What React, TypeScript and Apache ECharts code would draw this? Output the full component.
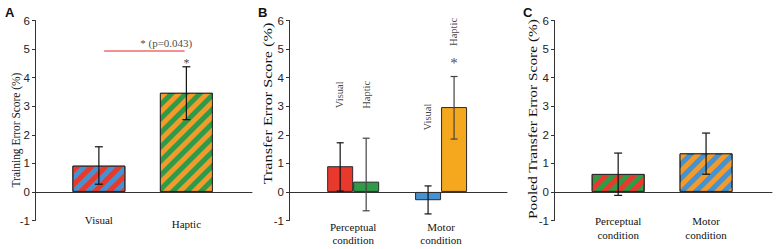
import React, { useEffect, useRef } from 'react';
import * as echarts from 'echarts';

// ---------- data ----------
const yTickValues = [-1, 0, 1, 2, 3, 4, 5, 6];

const panelACategories = ['Visual', 'Haptic'];
const panelAValues = [0.92, 3.47];
const panelALow = [0.27, 2.53];
const panelAHigh = [1.58, 4.38];

const panelBCategories = ['Perceptual\ncondition', 'Motor\ncondition'];
const panelBVisual = [0.9, -0.29];
const panelBVisualLow = [0.03, -0.77];
const panelBVisualHigh = [1.72, 0.21];
const panelBHaptic = [0.36, 2.97];
const panelBHapticLow = [-0.66, 1.85];
const panelBHapticHigh = [1.88, 4.04];

const panelCCategories = ['Perceptual\ncondition', 'Motor\ncondition'];
const panelCValues = [0.63, 1.35];
const panelCLow = [-0.12, 0.62];
const panelCHigh = [1.36, 2.06];

const sigText = '* (p=0.043)';
const sigLevel = 4.93;
const sigSpan = [0.06, 0.98];

const yAxisTitles = ['Training Error Score (%)', 'Transfer Error Score (%)', 'Pooled Transfer Error Score (%)'];
const panelLetters = ['A', 'B', 'C'];

// annotation anchors (data units)
const annA = [
  { text: sigText, x: 0.77, y: 5.2, rotate: 0, size: 11 },
  { text: '*', x: 1, y: 4.5, rotate: 0, size: 12 },
];
const annB = [
  { text: 'Visual', x: -0.15, y: 3.4, rotate: 90, size: 10.5 },
  { text: 'Haptic', x: 0.146, y: 3.4, rotate: 90, size: 10.5 },
  { text: 'Visual', x: 0.85, y: 2.62, rotate: 90, size: 10.5 },
  { text: 'Haptic', x: 1.146, y: 5.6, rotate: 90, size: 10.5 },
  { text: '*', x: 1.146, y: 4.5, rotate: 0, size: 15 },
];

// ---------- styles ----------
const RED = '#e8392c';
const BLUE = '#4592d2';
const GREEN = '#2f9a48';
const ORANGE = '#f39a2b';
const ORANGE_B = '#f5a81e';
const SERIF = '"Liberation Serif", "Times New Roman", serif';
const SANS = '"Liberation Sans", Arial, sans-serif';
const AXIS = '#333';

const stripe = (base: string, s: string) => ({
  color: base,
  borderColor: '#2a2a2a',
  borderWidth: 1,
  decal: {
    symbol: 'rect',
    symbolSize: 1,
    color: s,
    dashArrayX: [1, 0],
    dashArrayY: [4.2, 4.2],
    rotation: -Math.PI / 4,
  },
});
const solid = (c: string) => ({ color: c, borderColor: '#2a2a2a', borderWidth: 1 });

function errorSeries(ax: number, low: number[], high: number[], offsetPx: number, capHalf: number, color = '#111') {
  return {
    type: 'custom',
    xAxisIndex: ax,
    yAxisIndex: ax,
    z: 10,
    silent: true,
    data: low.map((l, i) => [i, l, high[i]]),
    encode: { x: 0, y: [1, 2] },
    renderItem: (_p: any, api: any) => {
      const x = api.value(0);
      const pLo = api.coord([x, api.value(1)]);
      const pHi = api.coord([x, api.value(2)]);
      const cx = pLo[0] + offsetPx;
      const style = { stroke: color, lineWidth: 1.2 };
      return {
        type: 'group',
        children: [
          { type: 'line', shape: { x1: cx, y1: pLo[1], x2: cx, y2: pHi[1] }, style },
          { type: 'line', shape: { x1: cx - capHalf, y1: pHi[1], x2: cx + capHalf, y2: pHi[1] }, style },
          { type: 'line', shape: { x1: cx - capHalf, y1: pLo[1], x2: cx + capHalf, y2: pLo[1] }, style },
        ],
      };
    },
  };
}

function annSeries(ax: number, list: any[]) {
  return {
    type: 'scatter',
    xAxisIndex: ax,
    yAxisIndex: ax,
    symbolSize: 1,
    silent: true,
    itemStyle: { color: 'rgba(0,0,0,0)' },
    z: 12,
    data: list.map((a) => ({
      value: [a.x, a.y],
      label: { formatter: a.text, rotate: a.rotate, fontSize: a.size },
    })),
    label: { show: true, position: 'inside', fontFamily: SERIF, color: '#111' },
  };
}

const grids = [
  { left: 35, top: 20.5, width: 217, height: 200 },
  { left: 289, top: 20.5, width: 218, height: 200 },
  { left: 554, top: 20.5, width: 218, height: 200 },
];

// y-axis title placement (pixel centres) and fit
const yTitleLayout = [
  { x: 15.3, y: 130, size: 13, scaleX: 0.88 },
  { x: 267.5, y: 103.5, size: 13.5, scaleX: 1.2 },
  { x: 532.5, y: 119, size: 13.5, scaleX: 1.14 },
];

const catSets = [panelACategories, panelBCategories, panelCCategories];

export default function App() {
  const ref = useRef<HTMLDivElement>(null);
  useEffect(() => {
    if (!ref.current) return;
    const chart = echarts.init(ref.current, undefined, { renderer: 'svg' });
    const xAxis = catSets.map((cats, i) => ({
      type: 'value',
      gridIndex: i,
      min: -0.73,
      max: 1.75,
      axisLine: { show: true, onZero: true, lineStyle: { color: AXIS, width: 1 } },
      axisTick: { show: false },
      splitLine: { show: false },
      axisLabel:
        i === 0
          ? {
              customValues: [0, 1],
              margin: -6,
              formatter: (v: number) => `{c${Math.round(v)}|${cats[Math.round(v)]}}`,
              rich: {
                c0: { fontFamily: SERIF, fontSize: 11, color: '#111' },
                c1: { fontFamily: SERIF, fontSize: 11, color: '#111', padding: [3.5, 0, 0, 0] },
              },
            }
          : {
              customValues: [0, 1],
              margin: i === 1 ? 0 : -6.5,
              formatter: (v: number) => cats[Math.round(v)],
              fontFamily: SERIF,
              fontSize: 11,
              lineHeight: i === 1 ? 13 : 14,
              color: '#111',
            },
    }));
    const yAxis = grids.map((_g, i) => ({
      type: 'value',
      gridIndex: i,
      min: yTickValues[0],
      max: yTickValues[yTickValues.length - 1],
      interval: 1,
      axisLine: { show: true, onZero: false, lineStyle: { color: AXIS, width: 1 } },
      axisTick: { show: true, length: 3, lineStyle: { color: AXIS } },
      splitLine: { show: false },
      axisLabel: { margin: 5, fontFamily: SANS, fontSize: 11.5, color: '#222' },
    }));

    chart.setOption({
      animation: false,
      backgroundColor: '#fff',
      title: panelLetters.map((t, i) => ({
        text: t,
        left: [5, 258, 523][i],
        top: 6,
        padding: 0,
        textStyle: { fontFamily: SANS, fontSize: 13, fontWeight: 'bold', color: '#111' },
      })),
      graphic: yAxisTitles.map((t, i) => ({
        type: 'text',
        x: yTitleLayout[i].x,
        y: yTitleLayout[i].y,
        rotation: Math.PI / 2,
        scaleX: yTitleLayout[i].scaleX,
        silent: true,
        style: {
          text: t,
          fontFamily: SERIF,
          fontSize: yTitleLayout[i].size,
          fill: '#111',
          align: 'center',
          verticalAlign: 'middle',
        },
      })),
      grid: grids.map((g) => ({ ...g, outerBoundsMode: 'none' })),
      xAxis,
      yAxis,
      series: [
        {
          type: 'bar',
          xAxisIndex: 0,
          yAxisIndex: 0,
          barWidth: 53,
          data: panelAValues.map((v, i) => ({
            value: [i, v],
            itemStyle: i === 0 ? stripe(BLUE, RED) : stripe(GREEN, ORANGE),
          })),
          markLine: {
            silent: true,
            symbol: 'none',
            label: { show: false },
            lineStyle: { color: '#e8706a', width: 1.5, type: 'solid' },
            data: [[{ coord: [sigSpan[0], sigLevel] }, { coord: [sigSpan[1], sigLevel] }]],
          },
        },
        errorSeries(0, panelALow, panelAHigh, 0, 4),
        annSeries(0, annA),
        {
          type: 'bar',
          xAxisIndex: 1,
          yAxisIndex: 1,
          barWidth: 26,
          barGap: '0%',
          data: panelBVisual.map((v, i) => ({ value: [i, v], itemStyle: solid(i === 0 ? RED : BLUE) })),
        },
        {
          type: 'bar',
          xAxisIndex: 1,
          yAxisIndex: 1,
          barWidth: 26,
          barGap: '0%',
          data: panelBHaptic.map((v, i) => ({ value: [i, v], itemStyle: solid(i === 0 ? GREEN : ORANGE_B) })),
        },
        errorSeries(1, panelBVisualLow, panelBVisualHigh, -13, 3.5),
        errorSeries(1, panelBHapticLow, panelBHapticHigh, 13, 3.5, '#444'),
        annSeries(1, annB),
        {
          type: 'bar',
          xAxisIndex: 2,
          yAxisIndex: 2,
          barWidth: 53,
          data: panelCValues.map((v, i) => ({
            value: [i, v],
            itemStyle: i === 0 ? stripe(GREEN, RED) : stripe(BLUE, ORANGE),
          })),
        },
        errorSeries(2, panelCLow, panelCHigh, 0, 4),
      ],
    });
    return () => chart.dispose();
  }, []);
  return (
    <div
      ref={ref}
      style={{ position: 'fixed', left: 0, top: 0, width: 778, height: 249, background: '#fff' }}
    />
  );
}
